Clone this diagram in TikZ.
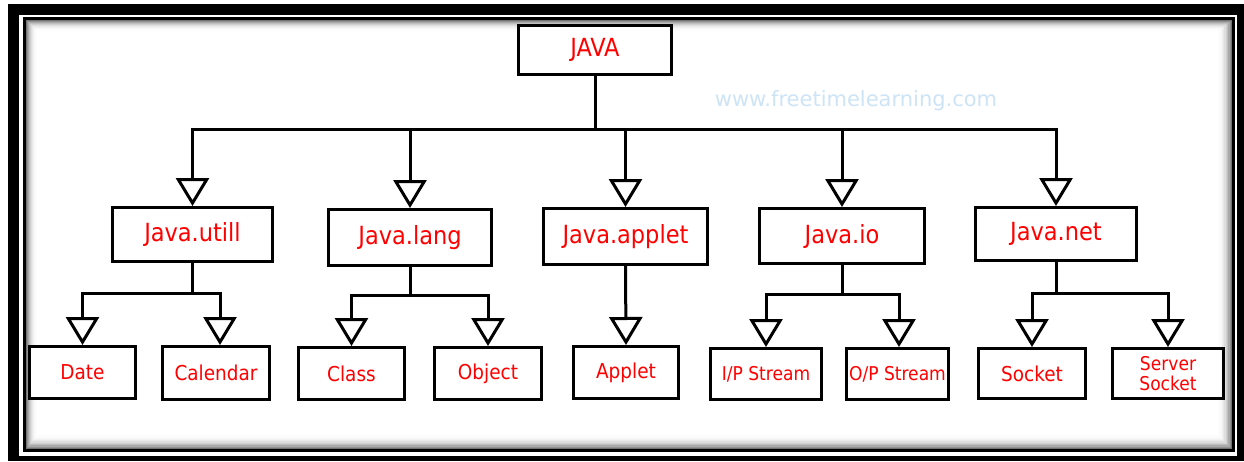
\documentclass[tikz,border=0pt]{standalone}
\usepackage{fontspec}
\setmainfont{DejaVu Sans}
\newfontfamily\condfont{DejaVu Sans Condensed}
\usetikzlibrary{arrows.meta}
\definecolor{wmblue}{RGB}{205,228,246}
\definecolor{txtred}{RGB}{255,0,0}
\begin{document}
\begin{tikzpicture}[x=1pt,y=-1pt,
  box/.style={draw=black, line width=3pt, fill=white, text=txtred, inner sep=0pt, align=center},
  big/.style={font=\condfont\fontsize{25}{30}\selectfont},
  small/.style={font=\condfont\fontsize{20.5}{24}\selectfont},
  tiny/.style={font=\condfont\fontsize{19}{20}\selectfont},
  wire/.style={line width=3pt},
  arr/.style={line width=3pt, -{Triangle[open,fill=white,width=33pt,length=28pt]}},
]
\useasboundingbox (0,0) rectangle (1244,461);
% frame
\fill[white] (0,0) rectangle (1244,461);
\fill[black] (8,4) rectangle (1244,461);
\fill[white] (19,15) rectangle (1237,456);
\fill[black] (23,17) rectangle (1235,452);
\fill[white] (26,20) rectangle (1232,449);
\foreach \i in {0,...,12} {
  \pgfmathsetmacro\g{55*(1-\i/13)^3}
  \draw[line width=1.5pt, black!\g] (26.5+\i,20.5+\i) rectangle (1231.5-1.3*\i,448.5-1.3*\i);
}

% watermark
\node[anchor=base, text=wmblue, font=\fontsize{21}{25}\selectfont, inner sep=0pt] (wm) at (856,106) {www.freetimelearning.com};

% nodes
\node[box, big, minimum width=153pt, minimum height=49pt] (java) at (595,50) {JAVA};
\node[box, big, minimum width=160pt, minimum height=54pt] (utill) at (192.5,234.5) {Java.utill};
\node[box, big, minimum width=163pt, minimum height=56pt] (lang) at (410,237.5) {Java.lang};
\node[box, big, minimum width=164pt, minimum height=56pt] (applet) at (625.5,236.5) {Java.applet};
\node[box, big, minimum width=165pt, minimum height=55pt] (io) at (842,236) {Java.io};
\node[box, big, minimum width=161pt, minimum height=53pt] (net) at (1056,234) {Java.net};

\node[box, small, minimum width=106pt, minimum height=52pt] (date) at (82.5,372.5) {Date};
\node[box, small, minimum width=107pt, minimum height=53pt] (cal) at (216,373) {Calendar};
\node[box, small, minimum width=106pt, minimum height=52pt] (class) at (351.5,373.5) {Class};
\node[box, small, minimum width=107pt, minimum height=52pt] (object) at (488,373.5) {Object};
\node[box, small, minimum width=105pt, minimum height=52pt] (appl) at (626,372.5) {Applet};
\node[box, tiny, minimum width=111pt, minimum height=51pt] (ips) at (766,374) {I/P Stream};
\node[box, tiny, minimum width=102pt, minimum height=51pt] (ops) at (897.5,374) {O/P Stream};
\node[box, small, minimum width=107pt, minimum height=50pt] (sock) at (1032,373.5) {Socket};
\node[box, tiny, minimum width=111pt, minimum height=50pt] (ssock) at (1168,373.5) {Server\\Socket};

% bus coordinates
\coordinate (b0) at (java.south |- 0,129);
\coordinate (bu) at (utill.south |- 0,293);
\coordinate (bl) at (lang.south |- 0,295);
\coordinate (bi) at (io.south |- 0,294);
\coordinate (bn) at (net.south |- 0,293);

% connectors level 1
\draw[wire] (java.south) -- (b0);
\draw[arr] (b0) -| (utill.north);
\draw[arr] (b0) -| (lang.north);
\draw[arr] (b0) -| (applet.north);
\draw[arr] (b0) -| (io.north);
\draw[arr] (b0) -| (net.north);

% connectors level 2
\draw[wire] (utill.south) -- (bu);
\draw[arr] (bu) -| (date.north);
\draw[arr] (bu) -| ([xshift=4pt]cal.north);
\draw[wire] (lang.south) -- (bl);
\draw[arr] (bl) -| (class.north);
\draw[arr] (bl) -| (object.north);
\draw[arr] (applet.south) -- (appl.north);
\draw[wire] (io.south) -- (bi);
\draw[arr] (bi) -| (ips.north);
\draw[arr] (bi) -| ([xshift=1.5pt]ops.north);
\draw[wire] (net.south) -- (bn);
\draw[arr] (bn) -| (sock.north);
\draw[arr] (bn) -| (ssock.north);
\end{tikzpicture}
\end{document}
